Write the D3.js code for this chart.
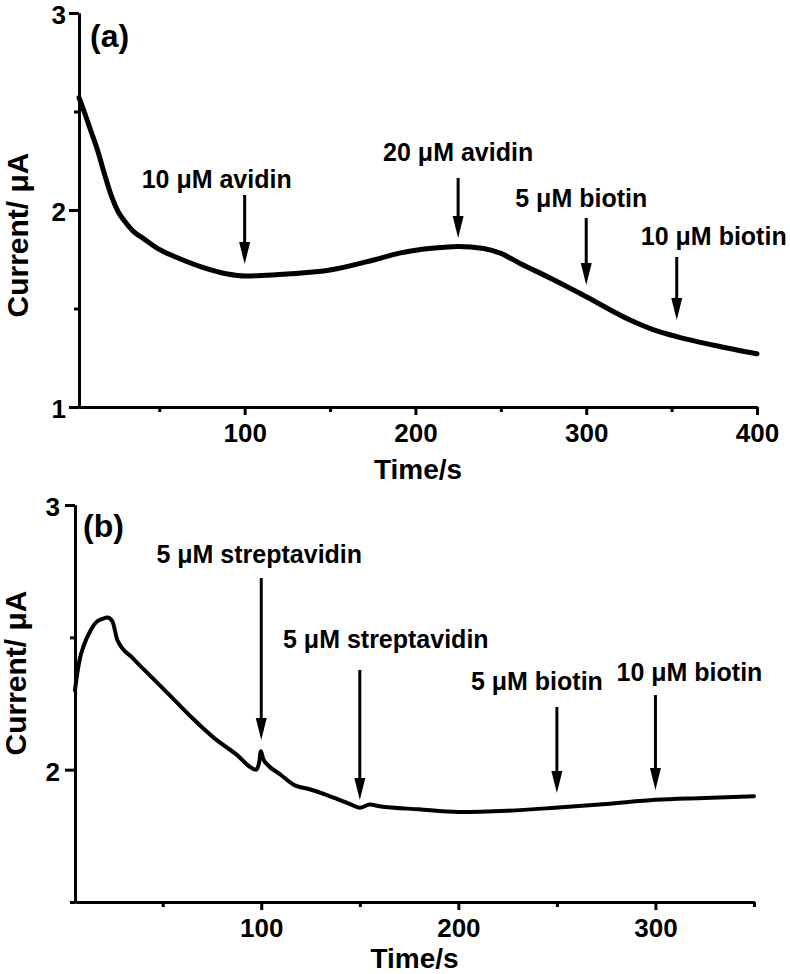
<!DOCTYPE html>
<html>
<head>
<meta charset="utf-8">
<script src="https://d3js.org/d3.v7.min.js"></script>
<style>
  body { margin: 0; background: #fff; }
  svg { display: block; }
  text { font-family: "Liberation Sans", Arial, sans-serif; font-weight: bold; fill: #000; }
</style>
</head>
<body>
<svg id="drawing_region"></svg>
<script>
// panel (a): avidin / biotin
const time_a    = [3, 6, 10, 14, 18, 22, 26, 30, 35, 40, 50, 60, 75, 90, 100, 110, 125, 150, 175, 190, 203, 215, 225, 240, 250, 261, 280, 300, 326, 340, 354, 374, 400];
const current_a = [2.57, 2.50, 2.40, 2.30, 2.18, 2.07, 1.99, 1.94, 1.89, 1.86, 1.80, 1.76, 1.71, 1.675, 1.665, 1.667, 1.675, 1.695, 1.745, 1.78, 1.80, 1.81, 1.815, 1.805, 1.78, 1.73, 1.65, 1.56, 1.44, 1.39, 1.355, 1.315, 1.27];
const events_a_time  = [100, 225, 300, 353];
const events_a_label = ["10 μM avidin", "20 μM avidin", "5 μM biotin", "10 μM biotin"];

// panel (b): streptavidin / biotin
const time_b    = [5.5, 6, 8, 10, 13, 16, 19.5, 22, 24.5, 27, 35, 45, 55, 65, 76, 87, 97.5, 99, 99.8, 101, 103, 110, 116, 125, 133, 140, 145, 150, 155, 160, 180, 200, 225, 249, 275, 300, 325, 350];
const current_b = [2.30, 2.33, 2.42, 2.47, 2.52, 2.555, 2.57, 2.575, 2.56, 2.49, 2.42, 2.345, 2.27, 2.195, 2.12, 2.06, 2.00, 2.03, 2.07, 2.04, 2.02, 1.98, 1.945, 1.925, 1.905, 1.885, 1.87, 1.856, 1.868, 1.862, 1.85, 1.84, 1.845, 1.856, 1.87, 1.886, 1.893, 1.90];
const events_b_time  = [100, 150, 250, 300];
const events_b_label = ["5 μM streptavidin", "5 μM streptavidin", "5 μM biotin", "10 μM biotin"];

const x_ticks_a = [100, 200, 300, 400];
const x_minor_a = [50, 150, 250, 350];
const y_ticks_a = [1, 2, 3];
const y_minor_a = [1.5, 2.5];

const x_ticks_b = [100, 200, 300];
const x_minor_b = [50, 150, 250, 350];
const y_ticks_b = [2, 3];
const y_minor_b = [1.5, 2.5];

const svg = d3.select('#drawing_region')
    .attr('width', 790)
    .attr('height', 974);

class TimeTrace {

    constructor( config, data ) {
        this.config = config;
        this.data = data;
        this.init();
    }

    init() {
        let self = this;
        const c = self.config;

        self.inner_width = c.width - c.margin.left - c.margin.right;
        self.inner_height = c.height - c.margin.top - c.margin.bottom;

        self.chart = svg.append('g')
            .attr('transform', `translate(${c.margin.left}, ${c.top + c.margin.top})`);

        self.xscale = d3.scaleLinear()
            .domain( c.xdomain )
            .range( [0, self.inner_width] );

        self.yscale = d3.scaleLinear()
            .domain( c.ydomain )
            .range( [self.inner_height, 0] );

        self.line = d3.line()
            .x( d => self.xscale(d.t) )
            .y( d => self.yscale(d.v) )
            .curve( d3.curveMonotoneX );

        // axis titles
        svg.append('text')
            .attr('x', c.margin.left + self.inner_width / 2)
            .attr('y', c.top + c.xlabel_y)
            .attr('text-anchor', 'middle')
            .style('font-size', '28px')
            .text('Time/s');

        svg.append('text')
            .attr('transform', `translate(${c.ylabel_x}, ${c.top + c.ylabel_y}) rotate(-90)`)
            .attr('text-anchor', 'middle')
            .style('font-size', '30px')
            .text('Current/ μA');

        svg.append('text')
            .attr('x', c.tag_x)
            .attr('y', c.top + c.tag_y)
            .style('font-size', '32px')
            .text(c.tag);
    }

    render() {
        let self = this;
        const c = self.config;

        self.chart.append('path')
            .datum(self.data.points)
            .attr('d', self.line)
            .attr('fill', 'none')
            .attr('stroke', '#000')
            .attr('stroke-width', c.line_width)
            .attr('stroke-linejoin', 'round')
            .attr('stroke-linecap', 'round');

        // minor ticks first, majors drawn on top
        self.chart.append('g')
            .attr('transform', `translate(0, ${self.inner_height})`)
            .call( d3.axisBottom(self.xscale).tickValues(c.x_minor).tickSize(5).tickFormat('').tickSizeOuter(0) );
        self.chart.append('g')
            .call( d3.axisLeft(self.yscale).tickValues(c.y_minor).tickSize(5).tickFormat('').tickSizeOuter(0) );

        self.chart.append('g')
            .attr('transform', `translate(0, ${self.inner_height})`)
            .call( d3.axisBottom(self.xscale).tickValues(c.x_ticks).tickSize(8).tickPadding(9).tickSizeOuter(0) );
        self.yaxis_group = self.chart.append('g')
            .call( d3.axisLeft(self.yscale).tickValues(c.y_ticks).tickSize(10).tickPadding(c.ypad).tickFormat(d3.format('d')).tickSizeOuter(0) );
        self.yaxis_group.selectAll('.tick text')
            .attr('dy', '0.42em');

        self.chart.selectAll('.domain, .tick line')
            .attr('stroke', '#000')
            .attr('stroke-width', 3);
        self.chart.selectAll('.tick text')
            .style('font-size', '26px')
            .style('font-family', '"Liberation Sans", Arial, sans-serif')
            .style('font-weight', 'bold');

        // event arrows
        const ev = self.chart.selectAll('.event')
            .data(self.data.events)
            .enter()
            .append('g')
            .attr('class', 'event')
            .attr('transform', d => `translate(${self.xscale(d.t)}, 0)`);

        ev.append('line')
            .attr('x1', 0).attr('x2', 0)
            .attr('y1', (d, i) => c.arrows[i].top)
            .attr('y2', (d, i) => c.arrows[i].tip - 14)
            .attr('stroke', '#000')
            .attr('stroke-width', 3);

        ev.append('path')
            .attr('d', (d, i) => {
                const tip = c.arrows[i].tip;
                return `M-5.5,${tip - 22}L5.5,${tip - 22}L0,${tip}Z`;
            })
            .attr('fill', '#000');

        ev.append('text')
            .attr('x', (d, i) => c.arrows[i].dx)
            .attr('y', (d, i) => c.arrows[i].text)
            .attr('text-anchor', 'middle')
            .style('font-size', '25px')
            .text(d => d.label);
    }
}

const chart_a = new TimeTrace({
    top: 0, width: 790, height: 487,
    margin: {top: 13, right: 33, bottom: 80, left: 79},
    xdomain: [3, 400], ydomain: [1, 3],
    x_ticks: x_ticks_a, x_minor: x_minor_a, y_ticks: y_ticks_a, y_minor: y_minor_a,
    ypad: 3, line_width: 5,
    xlabel_y: 479, ylabel_x: 28, ylabel_y: 235,
    tag: '(a)', tag_x: 90, tag_y: 47,
    arrows: [
        {dx: -28, text: 175, top: 182, tip: 251},
        {dx: 0,   text: 148, top: 165, tip: 225},
        {dx: -5,  text: 194, top: 205, tip: 272},
        {dx: 37,  text: 232, top: 244, tip: 307}
    ]
}, {
    points: time_a.map((t, i) => ({t: t, v: current_a[i]})),
    events: events_a_time.map((t, i) => ({t: t, label: events_a_label[i]}))
});
chart_a.render();

const chart_b = new TimeTrace({
    top: 492, width: 790, height: 482,
    margin: {top: 13, right: 36, bottom: 72, left: 75},
    xdomain: [5.5, 350], ydomain: [1.5, 3],
    x_ticks: x_ticks_b, x_minor: x_minor_b, y_ticks: y_ticks_b, y_minor: y_minor_b,
    ypad: 5, line_width: 4,
    xlabel_y: 476, ylabel_x: 26, ylabel_y: 181,
    tag: '(b)', tag_x: 83, tag_y: 45,
    arrows: [
        {dx: -2,  text: 58,  top: 73,  tip: 235},
        {dx: 26,  text: 143, top: 165, tip: 295},
        {dx: -20, text: 185, top: 202, tip: 288},
        {dx: 34,  text: 176, top: 190, tip: 285}
    ]
}, {
    points: time_b.map((t, i) => ({t: t, v: current_b[i]})),
    events: events_b_time.map((t, i) => ({t: t, label: events_b_label[i]}))
});
chart_b.render();
</script>
</body>
</html>
